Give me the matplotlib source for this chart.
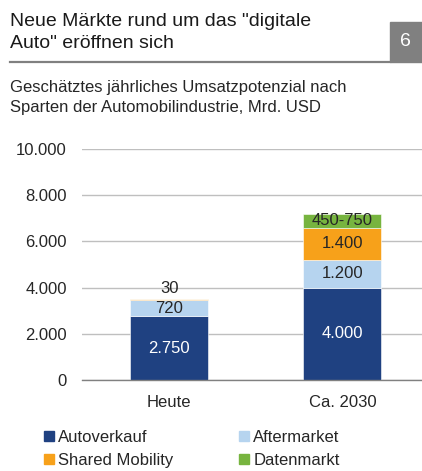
import numpy as np
import matplotlib.pyplot as plt
import matplotlib.patches as mpatches

plt.rcParams['font.family'] = ['Liberation Sans', 'DejaVu Sans']

# data
categories = ['Heute', 'Ca. 2030']
series = ['Autoverkauf', 'Aftermarket', 'Shared Mobility', 'Datenmarkt']
autoverkauf = [2750, 4000]
aftermarket = [720, 1200]
shared_mobility = [30, 1400]
datenmarkt = [0, 600]
labels_auto = ['2.750', '4.000']
labels_after = ['720', '1.200']
labels_shared = ['30', '1.400']
labels_daten = ['', '450-750']
yticks = [0, 2000, 4000, 6000, 8000, 10000]
ytick_labels = ['0', '2.000', '4.000', '6.000', '8.000', '10.000']

colors = ['#1F4181', '#B6D4EF', '#F7A11A', '#77B43F']
txt = '#262626'

fig = plt.figure(figsize=(4.22, 4.71), dpi=100)
ax = fig.add_axes([82/422, 91/471, 340/422, 231/471])

x = np.arange(len(categories))
w = 0.45
values = [autoverkauf, aftermarket, shared_mobility, datenmarkt]
bottom = np.zeros(len(categories))
for vals, c, name in zip(values, colors, series):
    ax.bar(x, vals, w, bottom=bottom, color=c, label=name, zorder=3,
           edgecolor='white', linewidth=0.4)
    bottom = bottom + np.array(vals)

# segment labels
fs = 12
for i in range(len(categories)):
    ax.text(x[i], autoverkauf[i] / 2, labels_auto[i], ha='center', va='center',
            color='white', fontsize=fs, zorder=4)
    ax.text(x[i], autoverkauf[i] + aftermarket[i] / 2, labels_after[i],
            ha='center', va='center', color=txt, fontsize=fs, zorder=4)
b3 = np.array(autoverkauf) + np.array(aftermarket)
# Heute: "30" sits above the bar
ax.text(x[0], b3[0] + shared_mobility[0] + 450, labels_shared[0], ha='center',
        va='center', color=txt, fontsize=fs, zorder=4)
ax.text(x[1], b3[1] + shared_mobility[1] / 2, labels_shared[1], ha='center',
        va='center', color=txt, fontsize=fs, zorder=4)
b4 = b3 + np.array(shared_mobility)
ax.text(x[1], b4[1] + datenmarkt[1] / 2, labels_daten[1], ha='center',
        va='center', color=txt, fontsize=fs, zorder=4)

ax.set_xlim(-0.503, 1.46)
ax.set_ylim(0, 10000)
ax.set_yticks(yticks)
ax.set_yticklabels(ytick_labels)
ax.set_xticks(x)
ax.set_xticklabels(categories)
ax.tick_params(axis='both', length=0, labelsize=12, colors=txt)
ax.tick_params(axis='y', pad=11)
ax.tick_params(axis='x', pad=11)
for s in ['top', 'right', 'left']:
    ax.spines[s].set_visible(False)
ax.spines['bottom'].set_color('#808080')
ax.spines['bottom'].set_linewidth(1.0)
ax.spines['bottom'].set_zorder(5)
ax.yaxis.grid(True, color='#BFBFBF', linewidth=1.0, zorder=0)
ax.set_axisbelow(True)

# legend
handles = [mpatches.Patch(color=c) for c in colors]
order = [0, 2, 1, 3]
fig.legend([handles[i] for i in order], [series[i] for i in order],
           loc='upper left', bbox_to_anchor=(44/422, 1 - 430/471), ncol=2,
           frameon=False, fontsize=12, handlelength=0.6, handleheight=0.6,
           handletextpad=0.25, columnspacing=3.95, labelspacing=0.47,
           borderaxespad=0, borderpad=0, labelcolor=txt)

# header
H = 471
fig.text(10/422, 1 - 26/H, 'Neue Märkte rund um das "digitale', fontsize=14,
         color='#1A1A1A', va='baseline', ha='left')
fig.text(10/422, 1 - 48/H, 'Auto" eröffnen sich', fontsize=14,
         color='#1A1A1A', va='baseline', ha='left')
fig.add_artist(plt.Line2D([10/422, 390/422], [1 - 61.5/H, 1 - 61.5/H],
                          color='#808080', linewidth=1.6))
fig.add_artist(mpatches.Rectangle((390/422, 1 - 62/H), 32/422, 40/H,
                                  color='#808080', transform=fig.transFigure))
fig.text(405/422, 1 - 42/H, '6', fontsize=14, color='white', ha='center',
         va='center')
fig.text(10/422, 1 - 92/H, 'Geschätztes jährliches Umsatzpotenzial nach',
         fontsize=12, color=txt, va='baseline', ha='left')
fig.text(10/422, 1 - 112/H, 'Sparten der Automobilindustrie, Mrd. USD',
         fontsize=12, color=txt, va='baseline', ha='left')

plt.savefig('out.png', dpi=100)
plt.close()
